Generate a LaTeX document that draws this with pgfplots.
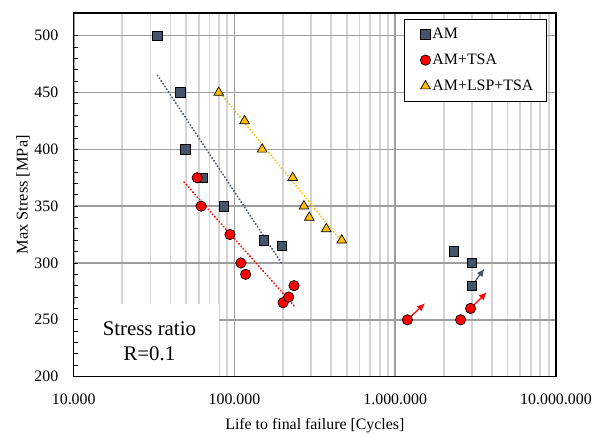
\documentclass[border=0pt]{standalone}
\usepackage{fontspec}
\setmainfont{Liberation Serif}
\usepackage{pgfplots}
\pgfplotsset{compat=1.18}
\usetikzlibrary{arrows.meta}
\definecolor{amgray}{HTML}{44546A}
\definecolor{amyellow}{HTML}{FFC000}
\pgfplotsset{
 layers/mylayers/.define layer set={axis background,axis grid,boxlayer,axis ticks,axis lines,axis tick labels,pre main,main,axis descriptions,axis foreground}{
   grid style={/pgfplots/on layer=axis grid},
   tick style={/pgfplots/on layer=axis ticks},
   axis line style={/pgfplots/on layer=axis lines},
   label style={/pgfplots/on layer=axis descriptions},
   legend style={/pgfplots/on layer=axis descriptions},
   title style={/pgfplots/on layer=axis descriptions},
   colorbar style={/pgfplots/on layer=axis descriptions},
   ticklabel style={/pgfplots/on layer=axis tick labels},
   axis background@ style={/pgfplots/on layer=axis background},
   3d box foreground style={/pgfplots/on layer=axis foreground},
 },
}
\begin{document}
\begin{tikzpicture}
\begin{axis}[
  set layers=mylayers,
  at={(0,0)}, anchor=south west,
  scale only axis, width=484bp, height=365bp,
  xmode=log, xmin=1e4, xmax=1e7,
  ymin=200, ymax=520,
  xtick={1e4,1e5,1e6,1e7},
  xticklabels={10.000,100.000,1.000.000,10.000.000},
  ytick={200,250,...,500},
  minor y tick num=4,
  ytick pos=left,
  tick align=inside,
  major tick length=4bp, minor tick length=4bp,
  x tick style={draw=none},
  minor x tick style={draw=none},
  y tick style={black, line width=0.8bp},
  minor y tick style={black, line width=0.8bp},
  xmajorgrids, ymajorgrids, xminorgrids,
  major grid style={color=black!38, line width=1.6bp},
  minor grid style={color=black!17, line width=1.8bp},
  axis line style={black, line width=1.5bp},
  /pgf/number format/assume math mode=true,
  ticklabel style={font=\fontsize{16}{19}\selectfont},
  xticklabel style={yshift=-14bp},
  yticklabel style={xshift=-12bp},
  xlabel={Life to final failure [Cycles]},
  ylabel={Max Stress [MPa]},
  every axis x label/.style={at={(rel axis cs:0.5,0)}, anchor=base, yshift=-53bp, font=\fontsize{16}{19}\selectfont},
  every axis y label/.style={at={(axis description cs:-0.105,0.5)}, anchor=center, rotate=90, font=\fontsize{16.5}{19}\selectfont},
  legend style={at={(rel axis cs:0.981,0.984)}, anchor=north east, draw=black, line width=1bp,
     font=\fontsize{16}{19}\selectfont, row sep=10bp, inner xsep=13bp, inner ysep=7bp,
     nodes={inner xsep=0bp}},
  legend cell align=left,
  legend image code/.code={\path (-14.5bp,0bp) (0bp,0bp); \draw[#1,overlay] plot coordinates {(-6.5bp,0bp)};},
]
\addplot[forget plot, on layer=boxlayer, fill=white, draw=none] coordinates {(1e4,200) (80200,200) (80200,263.8) (1e4,263.8)} --cycle;
\node[align=center, font=\fontsize{21}{25}\selectfont, inner sep=0pt] at (axis cs:29560,231.4) {Stress ratio\\R=0.1};

% trend lines
\addplot[forget plot, amgray, line width=2.2bp, line cap=round, dash pattern=on 0.01bp off 3.3bp] coordinates {(33270,465) (196000,300)};
\addplot[forget plot, red, line width=2.2bp, line cap=round, dash pattern=on 0.01bp off 3.3bp] coordinates {(48700,371) (236000,262)};
\addplot[forget plot, amyellow, line width=2.2bp, line cap=round, dash pattern=on 0.01bp off 3.3bp] coordinates {(80000,451) (470000,318)};

% run-out arrows
\addplot[forget plot, amgray, line width=1.2bp, -{Latex[length=8bp,width=7bp]}] coordinates {(3000000,280) (3590000,295)};
\addplot[forget plot, red, line width=1.2bp, -{Latex[length=8bp,width=7bp]}] coordinates {(1191000,250) (1533000,264.6)};
\addplot[forget plot, red, line width=1.2bp, -{Latex[length=8bp,width=7bp]}] coordinates {(2942000,260) (3715000,274.3)};

% data
\addplot[only marks, mark=square*, mark size=4.8bp, mark options={fill=amgray, draw=black, line width=0.7bp}] coordinates {
 (33100,500) (45970,450) (49370,400) (63000,375) (86000,350) (152000,320) (196700,315)
 (2318000,310) (3000000,300) (3000000,280)};
\addlegendentry{AM}
\addplot[only marks, mark=*, mark size=5.2bp, mark options={fill=red, draw=black, line width=0.7bp}] coordinates {
 (58600,375) (62000,350) (93800,325) (109700,300) (117300,290) (200600,265) (217500,270) (234700,280)
 (1191000,250) (2552000,250) (2942000,260)};
\addlegendentry{AM+TSA}
\addplot[only marks, mark=triangle*, mark size=5.6bp, mark options={fill=amyellow, draw=black, line width=0.7bp}] coordinates {
 (79800,450) (115600,425) (148600,400) (230300,375) (270600,350) (292000,340) (372500,330) (465000,320)};
\addlegendentry{AM+LSP+TSA}
\end{axis}
\useasboundingbox (-74bp,-54bp) rectangle (521bp,378bp);
\end{tikzpicture}
\end{document}
